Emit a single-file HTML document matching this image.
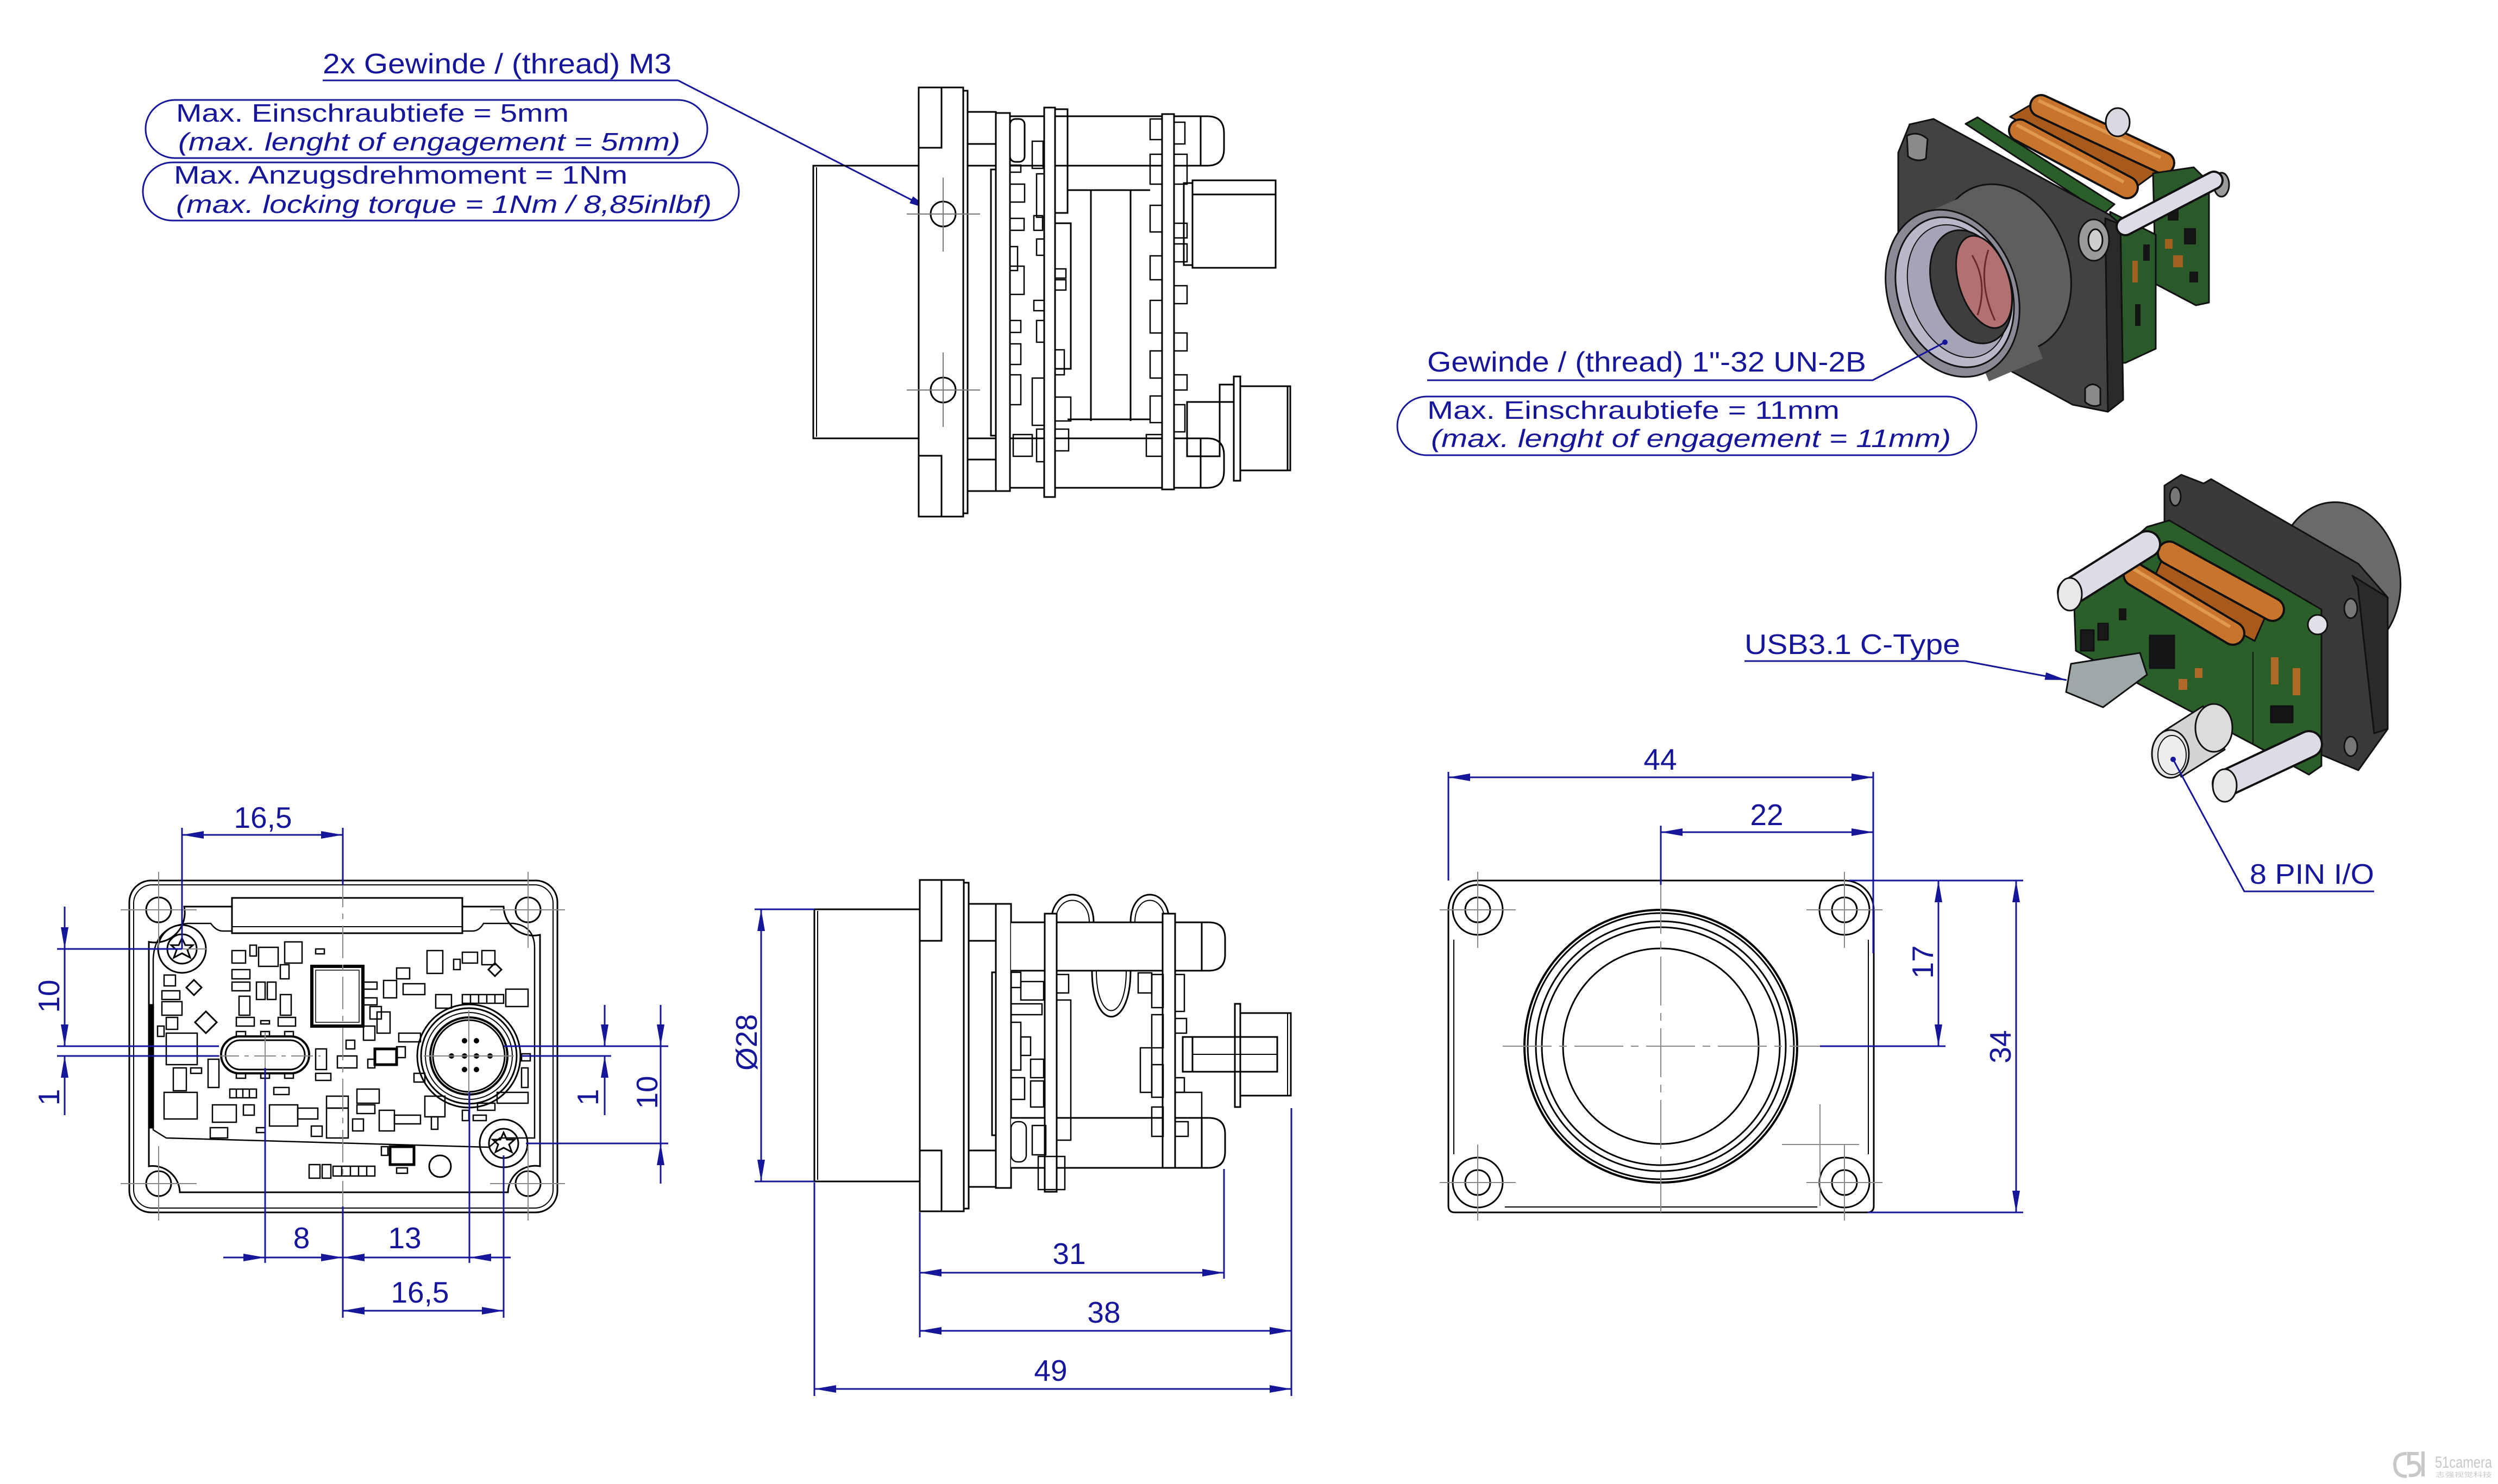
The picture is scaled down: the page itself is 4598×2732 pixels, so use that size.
<!DOCTYPE html>
<html><head><meta charset="utf-8">
<style>
html,body{margin:0;padding:0;background:#fff;}
svg{display:block;}
text{font-family:"Liberation Sans",Arial,sans-serif;fill:#16169a;}
</style></head><body>
<svg width="4598" height="2732" viewBox="0 0 4598 2732" xmlns="http://www.w3.org/2000/svg">
<defs>
<marker id="ar" viewBox="0 0 40 14" refX="40" refY="7" markerWidth="40" markerHeight="14" markerUnits="userSpaceOnUse" orient="auto-start-reverse"><path d="M0,0L40,7L0,14z" fill="#16169a"/></marker>
</defs>
<rect width="4598" height="2732" fill="#fff"/>

<!-- ================= LABELS TOP LEFT ================= -->
<g font-size="52">
<text x="594" y="135" textLength="642" lengthAdjust="spacingAndGlyphs">2x Gewinde / (thread) M3</text>
</g>
<g font-size="46">
<text x="324" y="224" textLength="723" lengthAdjust="spacingAndGlyphs">Max. Einschraubtiefe = 5mm</text>
<text x="328" y="277" textLength="924" lengthAdjust="spacingAndGlyphs" font-style="italic">(max. lenght of engagement = 5mm)</text>
<text x="320" y="338" textLength="835" lengthAdjust="spacingAndGlyphs">Max. Anzugsdrehmoment = 1Nm</text>
<text x="324" y="392" textLength="986" lengthAdjust="spacingAndGlyphs" font-style="italic">(max. locking torque = 1Nm / 8,85inlbf)</text>
</g>
<g stroke="#16169a" stroke-width="3" fill="none">
<rect x="268" y="184" width="1034" height="107" rx="54" ry="53"/>
<rect x="263" y="299" width="1097" height="107" rx="54" ry="53"/>
<polyline points="594,148 1248,148"/>
<line x1="1248" y1="148" x2="1713" y2="386" marker-end="url(#ar)"/>
</g>

<!-- ================= LABELS TOP RIGHT ================= -->
<g font-size="52">
<text x="2627" y="684" textLength="808" lengthAdjust="spacingAndGlyphs">Gewinde / (thread) 1"-32 UN-2B</text>
<text x="3211" y="1204" textLength="397" lengthAdjust="spacingAndGlyphs">USB3.1 C-Type</text>
<text x="4141" y="1627" textLength="229" lengthAdjust="spacingAndGlyphs">8 PIN I/O</text>
</g>
<g font-size="46">
<text x="2627" y="771" textLength="759" lengthAdjust="spacingAndGlyphs">Max. Einschraubtiefe = 11mm</text>
<text x="2634" y="823" textLength="957" lengthAdjust="spacingAndGlyphs" font-style="italic">(max. lenght of engagement = 11mm)</text>
</g>

<!-- ================= TOP SIDE VIEW ================= -->
<g stroke="#000" stroke-width="3" fill="none">
<rect x="1497" y="305" width="194" height="502"/>
<line x1="1503" y1="308" x2="1503" y2="804" stroke-width="2"/>
<rect x="1691" y="161" width="82" height="790" fill="#fff"/>
<rect x="1691" y="161" width="42" height="111"/>
<rect x="1691" y="839" width="42" height="112"/>
<rect x="1773" y="167" width="8" height="778"/>
<circle cx="1736" cy="394" r="23"/>
<circle cx="1736" cy="718" r="23"/>
<rect x="1781" y="206" width="52" height="99"/>
<line x1="1781" y1="265" x2="1833" y2="265"/>
<rect x="1781" y="807" width="52" height="97"/>
<line x1="1781" y1="846" x2="1833" y2="846"/>
<rect x="1824" y="312" width="9" height="490"/>
<rect x="1833" y="208" width="26" height="696"/>
<rect x="1859" y="219" width="27" height="79" rx="10"/>
<path d="M1859,214 H2222 Q2253,214 2253,245 V274 Q2253,305 2222,305 H1859"/>
<line x1="2210" y1="214" x2="2210" y2="305"/>
<path d="M1859,807 H2222 Q2253,807 2253,838 V867 Q2253,898 2222,898 H1859"/>
<line x1="2210" y1="807" x2="2210" y2="898"/>
<rect x="1922" y="198" width="20" height="717" fill="#fff"/>
<rect x="1942" y="201" width="23" height="191"/>
<rect x="1942" y="411" width="29" height="268"/>
<rect x="2139" y="210" width="22" height="691" fill="#fff"/>
<line x1="2008" y1="350" x2="2008" y2="775"/>
<line x1="2081" y1="350" x2="2081" y2="775"/>
<line x1="1965" y1="350" x2="2117" y2="350"/>
<line x1="1965" y1="772" x2="2117" y2="772"/>
<g stroke-width="2.5">
<rect x="1859" y="304" width="20" height="13"/>
<rect x="1859" y="339" width="27" height="33"/>
<rect x="1859" y="402" width="26" height="22"/>
<rect x="1859" y="454" width="14" height="44"/>
<rect x="1859" y="490" width="26" height="52"/>
<rect x="1903" y="397" width="16" height="27"/>
<rect x="1903" y="553" width="19" height="19"/>
<rect x="1859" y="590" width="20" height="22"/>
<rect x="1859" y="633" width="20" height="38"/>
<rect x="1859" y="690" width="20" height="55"/>
<rect x="1900" y="696" width="22" height="87"/>
<rect x="1942" y="495" width="20" height="17"/>
<rect x="1942" y="515" width="20" height="19"/>
<rect x="1942" y="644" width="17" height="46"/>
<rect x="1942" y="731" width="29" height="44"/>
<rect x="1900" y="260" width="20" height="50"/>
<rect x="1908" y="320" width="14" height="80"/>
<rect x="1908" y="440" width="14" height="30"/>
<rect x="1908" y="590" width="14" height="40"/>
<rect x="1908" y="790" width="14" height="60"/>
<rect x="1865" y="800" width="35" height="40"/>
<rect x="1942" y="790" width="25" height="40"/>
<rect x="2117" y="219" width="22" height="38"/>
<rect x="2117" y="284" width="22" height="55"/>
<rect x="2117" y="378" width="22" height="49"/>
<rect x="2117" y="471" width="22" height="44"/>
<rect x="2117" y="553" width="22" height="60"/>
<rect x="2117" y="646" width="22" height="50"/>
<rect x="2117" y="729" width="22" height="49"/>
<rect x="2161" y="284" width="24" height="55"/>
<rect x="2161" y="411" width="24" height="27"/>
<rect x="2161" y="449" width="24" height="33"/>
<rect x="2161" y="526" width="24" height="33"/>
<rect x="2161" y="613" width="24" height="33"/>
<rect x="2161" y="690" width="24" height="28"/>
<rect x="2161" y="225" width="20" height="40"/>
<rect x="2161" y="745" width="20" height="50"/>
<rect x="2110" y="800" width="29" height="40"/>
</g>
<rect x="2179" y="337" width="16" height="151"/>
<rect x="2195" y="332" width="153" height="161"/>
<line x1="2195" y1="358" x2="2348" y2="358"/>
<rect x="2245" y="708" width="26" height="32"/>
<rect x="2271" y="693" width="12" height="192"/>
<rect x="2283" y="711" width="92" height="155"/>
<line x1="2370" y1="711" x2="2370" y2="866"/>
<rect x="2185" y="740" width="60" height="100"/>
</g>
<g stroke="#777" stroke-width="2" fill="none">
<line x1="1669" y1="394" x2="1804" y2="394"/><line x1="1736" y1="327" x2="1736" y2="463"/>
<line x1="1669" y1="718" x2="1804" y2="718"/><line x1="1736" y1="649" x2="1736" y2="786"/>
</g>

<!-- ================= FRONT VIEW (PCB) BOTTOM LEFT ================= -->
<g stroke="#000" stroke-width="3" fill="none">
<rect x="238" y="1621" width="788" height="611" rx="40"/>
<rect x="246" y="1629" width="772" height="595" rx="34" stroke-width="2"/>
<circle cx="292" cy="1675" r="23"/><circle cx="972" cy="1675" r="23"/>
<circle cx="292" cy="2179" r="23"/><circle cx="972" cy="2179" r="23"/>
<path d="M339,1669 L927,1669 A55,55 0 0 0 994,1721 L994,2147 A50,50 0 0 0 935,2195 L331,2195 A50,50 0 0 0 274,2147 L274,1734 A55,55 0 0 0 339,1669 Z"/>
<path d="M282,1765 Q285,1706 345,1700 L388,1700 Q398,1714 410,1714 L870,1714 Q882,1714 890,1700 L945,1700 Q984,1705 984,1745 L984,2095 L920,2095 L900,2112 L306,2095 L282,2080 Z" stroke-width="2.5"/>
<rect x="274" y="1850" width="8" height="226" fill="#000"/>
<rect x="427" y="1653" width="424" height="65" fill="#fff"/>
<line x1="427" y1="1706" x2="851" y2="1706" stroke-width="2"/>
<rect x="574" y="1779" width="94" height="110" stroke-width="6"/>
<rect x="581" y="1786" width="80" height="96" stroke-width="1.5"/>
<rect x="407" y="1908" width="162" height="68" rx="34" stroke-width="4"/>
<rect x="415" y="1915" width="146" height="54" rx="27"/>
<circle cx="335" cy="1747" r="44"/><circle cx="335" cy="1747" r="27"/>
<path d="M335,1727 L341,1740 L355,1740 L345,1749 L350,1763 L335,1755 L320,1763 L325,1749 L315,1740 L329,1740 Z"/>
<circle cx="927" cy="2105" r="44"/><circle cx="927" cy="2105" r="27"/>
<path d="M927,2085 L933,2098 L947,2098 L937,2107 L942,2121 L927,2113 L912,2121 L917,2107 L907,2098 L921,2098 Z"/>
<circle cx="863" cy="1944" r="95" fill="#fff"/>
<circle cx="863" cy="1944" r="88"/>
<circle cx="863" cy="1944" r="80" stroke-width="2"/>
<circle cx="863" cy="1944" r="71" stroke-width="4"/>
<circle cx="863" cy="1944" r="66"/>
<path d="M357,1804 L371,1818 L357,1832 L343,1818 Z"/>
<path d="M379,1862 L399,1882 L379,1902 L359,1882 Z"/>
<path d="M911,1773 L923,1785 L911,1797 L899,1785 Z"/>
<circle cx="810" cy="2147" r="20"/>
<g stroke-width="2.5">
<rect x="427" y="1750" width="25" height="23"/><rect x="476" y="1744" width="36" height="35"/>
<rect x="460" y="1740" width="12" height="20"/><rect x="524" y="1734" width="32" height="39"/>
<rect x="581" y="1747" width="16" height="9"/><rect x="427" y="1785" width="33" height="17"/>
<rect x="427" y="1808" width="33" height="16"/><rect x="472" y="1808" width="16" height="32"/>
<rect x="492" y="1808" width="16" height="32"/><rect x="516" y="1776" width="16" height="26"/>
<rect x="440" y="1834" width="20" height="35"/><rect x="516" y="1831" width="20" height="38"/>
<rect x="435" y="1873" width="33" height="16"/><rect x="512" y="1873" width="32" height="16"/>
<rect x="480" y="1879" width="16" height="6"/>
<rect x="435" y="1899" width="17" height="9"/><rect x="480" y="1899" width="16" height="9"/><rect x="524" y="1899" width="16" height="9"/>
<rect x="435" y="1976" width="17" height="9"/><rect x="480" y="1976" width="16" height="9"/><rect x="524" y="1976" width="16" height="9"/>
<rect x="423" y="2005" width="49" height="16"/><rect x="504" y="2002" width="28" height="13"/>
<rect x="391" y="2034" width="44" height="32"/><rect x="448" y="2034" width="20" height="19"/>
<rect x="387" y="2076" width="32" height="19"/><rect x="472" y="2076" width="16" height="9"/>
<rect x="496" y="2034" width="52" height="39"/><rect x="548" y="2040" width="37" height="20"/>
<rect x="601" y="2018" width="40" height="22"/><rect x="601" y="2040" width="40" height="55"/>
<rect x="573" y="2073" width="20" height="19"/><rect x="657" y="2005" width="41" height="26"/>
<rect x="657" y="2034" width="33" height="16"/><rect x="649" y="2060" width="20" height="22"/>
<rect x="698" y="2044" width="28" height="38"/><rect x="726" y="2053" width="48" height="16"/>
<rect x="782" y="2018" width="37" height="38"/><rect x="794" y="2056" width="12" height="23"/>
<rect x="851" y="2044" width="12" height="19"/><rect x="871" y="2053" width="24" height="10"/>
<rect x="879" y="2031" width="32" height="13"/><rect x="915" y="2011" width="57" height="20"/>
<rect x="960" y="1966" width="12" height="36"/><rect x="786" y="1750" width="29" height="42"/>
<rect x="835" y="1766" width="12" height="19"/><rect x="851" y="1753" width="28" height="20"/>
<rect x="887" y="1750" width="24" height="26"/><rect x="730" y="1782" width="24" height="20"/>
<rect x="742" y="1811" width="40" height="20"/><rect x="706" y="1805" width="24" height="32"/>
<rect x="851" y="1831" width="76" height="16"/><rect x="931" y="1821" width="41" height="32"/>
<rect x="802" y="1831" width="29" height="25"/><rect x="669" y="1808" width="25" height="13"/>
<rect x="669" y="1837" width="25" height="13"/><rect x="681" y="1853" width="21" height="23"/>
<rect x="694" y="1863" width="24" height="39"/><rect x="669" y="1889" width="21" height="26"/>
<rect x="690" y="1931" width="40" height="29" stroke-width="5"/>
<rect x="734" y="1902" width="40" height="16"/><rect x="730" y="1927" width="16" height="20"/>
<rect x="621" y="1944" width="36" height="22"/><rect x="637" y="1915" width="16" height="16"/>
<rect x="581" y="1931" width="20" height="38"/><rect x="581" y="1976" width="28" height="13"/>
<rect x="677" y="1950" width="13" height="16"/><rect x="762" y="1976" width="20" height="16"/>
<rect x="383" y="1950" width="20" height="52"/><rect x="302" y="1795" width="21" height="20"/>
<rect x="298" y="1824" width="33" height="16"/><rect x="298" y="1844" width="37" height="25"/>
<rect x="306" y="1873" width="21" height="22"/><rect x="306" y="1902" width="57" height="58"/>
<rect x="319" y="1966" width="24" height="42"/><rect x="302" y="2011" width="61" height="49"/>
<rect x="290" y="1889" width="12" height="19"/><rect x="351" y="1966" width="20" height="10"/>
<rect x="718" y="2111" width="44" height="33" stroke-width="5"/><rect x="702" y="2111" width="12" height="16"/>
<rect x="730" y="2150" width="20" height="10"/><rect x="569" y="2144" width="20" height="25"/>
<rect x="593" y="2144" width="16" height="25"/><rect x="613" y="2147" width="77" height="18"/>
<line x1="629" y1="2147" x2="629" y2="2165"/><line x1="645" y1="2147" x2="645" y2="2165"/><line x1="660" y1="2147" x2="660" y2="2165"/><line x1="675" y1="2147" x2="675" y2="2165"/>
<line x1="866" y1="1831" x2="866" y2="1847"/><line x1="881" y1="1831" x2="881" y2="1847"/><line x1="896" y1="1831" x2="896" y2="1847"/><line x1="911" y1="1831" x2="911" y2="1847"/>
<line x1="435" y1="2005" x2="435" y2="2021"/><line x1="447" y1="2005" x2="447" y2="2021"/><line x1="459" y1="2005" x2="459" y2="2021"/>
<rect x="960" y="1940" width="16" height="13"/>
</g>
</g>
<g fill="#000">
<circle cx="855" cy="1916" r="5"/><circle cx="877" cy="1916" r="5"/>
<circle cx="831" cy="1944" r="5"/><circle cx="855" cy="1944" r="5"/><circle cx="877" cy="1944" r="5"/><circle cx="902" cy="1944" r="5"/>
<circle cx="855" cy="1969" r="5"/><circle cx="877" cy="1969" r="5"/>
</g>
<g stroke="#888" stroke-width="2" fill="none">
<line x1="631" y1="1610" x2="631" y2="2245" stroke-dasharray="60 12 10 12"/>
<line x1="400" y1="1944" x2="590" y2="1944" stroke-dasharray="40 10 8 10"/>
<line x1="488" y1="1900" x2="488" y2="1990"/>
<line x1="222" y1="1675" x2="362" y2="1675"/><line x1="902" y1="1675" x2="1040" y2="1675"/>
<line x1="222" y1="2179" x2="362" y2="2179"/><line x1="902" y1="2179" x2="1040" y2="2179"/>
<line x1="292" y1="1605" x2="292" y2="1745"/><line x1="292" y1="2110" x2="292" y2="2247"/>
<line x1="972" y1="1605" x2="972" y2="1745"/><line x1="972" y1="2110" x2="972" y2="2247"/>
<line x1="780" y1="1944" x2="946" y2="1944"/><line x1="863" y1="1860" x2="863" y2="2030"/>
<line x1="290" y1="1747" x2="380" y2="1747"/>
</g>
<g stroke="#16169a" stroke-width="3" fill="none">
<line x1="335" y1="1537" x2="631" y2="1537" marker-start="url(#ar)" marker-end="url(#ar)"/>
<line x1="335" y1="1524" x2="335" y2="1747"/><line x1="631" y1="1524" x2="631" y2="1630"/>
<line x1="119" y1="1669" x2="119" y2="1747" marker-end="url(#ar)"/>
<line x1="119" y1="1747" x2="119" y2="1926" marker-end="url(#ar)"/>
<line x1="119" y1="2053" x2="119" y2="1944" marker-end="url(#ar)"/>
<line x1="105" y1="1747" x2="335" y2="1747"/>
<line x1="105" y1="1926" x2="403" y2="1926"/>
<line x1="105" y1="1944" x2="403" y2="1944"/>
<line x1="1113" y1="1850" x2="1113" y2="1926" marker-end="url(#ar)"/>
<line x1="1113" y1="2053" x2="1113" y2="1944" marker-end="url(#ar)"/>
<line x1="1216" y1="1850" x2="1216" y2="1926" marker-end="url(#ar)"/>
<line x1="1216" y1="2179" x2="1216" y2="2105" marker-end="url(#ar)"/>
<line x1="1216" y1="1926" x2="1216" y2="2105"/>
<line x1="927" y1="1926" x2="1230" y2="1926"/>
<line x1="960" y1="1944" x2="1125" y2="1944"/>
<line x1="968" y1="2105" x2="1230" y2="2105"/>
<line x1="411" y1="2315" x2="488" y2="2315" marker-end="url(#ar)"/>
<line x1="488" y1="2315" x2="631" y2="2315" marker-end="url(#ar)"/>
<line x1="864" y1="2315" x2="631" y2="2315" marker-end="url(#ar)"/>
<line x1="940" y1="2315" x2="864" y2="2315" marker-end="url(#ar)"/>
<line x1="631" y1="2413" x2="927" y2="2413" marker-start="url(#ar)" marker-end="url(#ar)"/>
<line x1="488" y1="1966" x2="488" y2="2325"/>
<line x1="631" y1="2221" x2="631" y2="2426"/>
<line x1="864" y1="2011" x2="864" y2="2325"/>
<line x1="927" y1="2127" x2="927" y2="2426"/>
</g>
<g font-size="55" text-anchor="middle">
<text x="484" y="1524">16,5</text>
<text x="555" y="2298">8</text>
<text x="745" y="2298">13</text>
<text x="773" y="2398">16,5</text>
<text transform="translate(109,1834) rotate(-90)">10</text>
<text transform="translate(109,2020) rotate(-90)">1</text>
<text transform="translate(1101,2020) rotate(-90)">1</text>
<text transform="translate(1210,2011) rotate(-90)">10</text>
</g>

<!-- ================= SIDE VIEW BOTTOM MIDDLE ================= -->
<g stroke="#000" stroke-width="3" fill="none">
<rect x="1499" y="1674" width="194" height="501"/>
<line x1="1505" y1="1677" x2="1505" y2="2172" stroke-width="2"/>
<rect x="1693" y="1620" width="81" height="610"/>
<rect x="1693" y="1620" width="40" height="112"/>
<rect x="1693" y="2118" width="40" height="112"/>
<rect x="1774" y="1625" width="9" height="600"/>
<rect x="1783" y="1664" width="50" height="521"/>
<line x1="1783" y1="1732" x2="1833" y2="1732"/>
<line x1="1783" y1="2118" x2="1833" y2="2118"/>
<rect x="1826" y="1790" width="7" height="300"/>
<rect x="1833" y="1664" width="28" height="523"/>
<path d="M1935,1698 C1935,1630 2013,1630 2013,1698"/>
<path d="M1943,1698 C1943,1644 2005,1644 2005,1698" stroke-width="2"/>
<path d="M2081,1698 C2081,1630 2152,1630 2152,1698"/>
<path d="M2089,1698 C2089,1644 2144,1644 2144,1698" stroke-width="2"/>
<path d="M2010,1787 C2010,1900 2081,1900 2081,1787"/>
<path d="M2018,1787 C2018,1885 2073,1885 2073,1787" stroke-width="2"/>
<path d="M1861,1698 H2225 Q2255,1698 2255,1728 V1757 Q2255,1787 2225,1787 H1861" fill="#fff"/>
<line x1="2212" y1="1698" x2="2212" y2="1787"/>
<path d="M1861,2058 H2225 Q2255,2058 2255,2088 V2120 Q2255,2150 2225,2150 H1861" fill="#fff"/>
<line x1="2212" y1="2058" x2="2212" y2="2150"/>
<line x1="1971" y1="2058" x2="2140" y2="2058"/>
<rect x="1923" y="1682" width="22" height="512" fill="#fff"/>
<rect x="2140" y="1682" width="23" height="468" fill="#fff"/>
<g stroke-width="2.5">
<rect x="1861" y="1790" width="18" height="28"/><rect x="1879" y="1807" width="42" height="34"/>
<rect x="1861" y="1848" width="57" height="20"/><rect x="1861" y="1882" width="18" height="88"/>
<rect x="1879" y="1909" width="18" height="34"/><rect x="1897" y="1950" width="24" height="34"/>
<rect x="1861" y="1984" width="25" height="40"/><rect x="1897" y="1990" width="24" height="48"/>
<rect x="1861" y="2065" width="28" height="74" rx="12"/><rect x="1900" y="2072" width="25" height="54"/>
<rect x="1911" y="2129" width="49" height="61"/><rect x="1945" y="1794" width="22" height="34"/>
<rect x="1945" y="1841" width="26" height="258"/>
<rect x="2120" y="1794" width="21" height="61"/><rect x="2095" y="1791" width="25" height="37"/>
<rect x="2120" y="1868" width="21" height="61"/><rect x="2099" y="1929" width="21" height="82"/>
<rect x="2120" y="1960" width="21" height="60"/><rect x="2120" y="2038" width="21" height="54"/>
<rect x="2163" y="1794" width="17" height="68"/><rect x="2163" y="1875" width="21" height="27"/>
<rect x="2163" y="1984" width="17" height="27"/><rect x="2163" y="2065" width="24" height="27"/>
<rect x="2163" y="2011" width="49" height="47"/>
</g>
<rect x="2177" y="1909" width="18" height="64"/>
<rect x="2195" y="1909" width="156" height="64"/>
<line x1="2195" y1="1941" x2="2351" y2="1941" stroke-width="2"/>
<rect x="2273" y="1848" width="10" height="190"/>
<path d="M2283,1865 H2376 V2017 H2283"/>
<line x1="2370" y1="1865" x2="2370" y2="2017" stroke-width="2"/>
</g>
<g stroke="#16169a" stroke-width="3" fill="none">
<line x1="1401" y1="1674" x2="1401" y2="2175" marker-start="url(#ar)" marker-end="url(#ar)"/>
<line x1="1389" y1="1674" x2="1499" y2="1674"/>
<line x1="1389" y1="2175" x2="1499" y2="2175"/>
<line x1="1693" y1="2343" x2="2253" y2="2343" marker-start="url(#ar)" marker-end="url(#ar)"/>
<line x1="1693" y1="2450" x2="2377" y2="2450" marker-start="url(#ar)" marker-end="url(#ar)"/>
<line x1="1499" y1="2557" x2="2377" y2="2557" marker-start="url(#ar)" marker-end="url(#ar)"/>
<line x1="1693" y1="2232" x2="1693" y2="2462"/>
<line x1="1499" y1="2177" x2="1499" y2="2570"/>
<line x1="2253" y1="2152" x2="2253" y2="2354"/>
<line x1="2377" y1="2040" x2="2377" y2="2570"/>
</g>
<g font-size="55" text-anchor="middle">
<text x="1968" y="2327">31</text>
<text x="2032" y="2435">38</text>
<text x="1934" y="2542">49</text>
<text transform="translate(1393,1919) rotate(-90)">Ø28</text>
</g>

<!-- ================= FRONT VIEW RIGHT ================= -->
<g stroke="#000" stroke-width="3" fill="none">
<path d="M2720,1621 H3395 A54,54 0 0 1 3449,1675 V2220 Q3449,2232 3437,2232 H2678 Q2666,2232 2666,2220 V1675 A54,54 0 0 1 2720,1621 Z"/>
<path d="M2676,1730 V2125 M3439,1730 V2125 M2770,2222 H3345" stroke-width="2"/>
<circle cx="2720" cy="1675" r="46"/><circle cx="2720" cy="1675" r="23"/>
<circle cx="3395" cy="1675" r="46"/><circle cx="3395" cy="1675" r="23"/>
<circle cx="2720" cy="2177" r="46"/><circle cx="2720" cy="2177" r="23"/>
<circle cx="3395" cy="2177" r="46"/><circle cx="3395" cy="2177" r="23"/>
<circle cx="3057" cy="1926" r="251" stroke-width="4"/>
<circle cx="3057" cy="1926" r="245"/>
<circle cx="3057" cy="1926" r="230"/>
<circle cx="3057" cy="1926" r="219"/>
<circle cx="3057" cy="1926" r="180"/>
</g>
<g stroke="#888" stroke-width="2" fill="none">
<line x1="2766" y1="1926" x2="3350" y2="1926" stroke-dasharray="90 14 14 14"/>
<line x1="3057" y1="1629" x2="3057" y2="2232" stroke-dasharray="90 14 14 14"/>
<line x1="2650" y1="1675" x2="2790" y2="1675"/><line x1="2720" y1="1605" x2="2720" y2="1745"/>
<line x1="3325" y1="1675" x2="3465" y2="1675"/><line x1="3395" y1="1605" x2="3395" y2="1745"/>
<line x1="2650" y1="2177" x2="2790" y2="2177"/><line x1="2720" y1="2107" x2="2720" y2="2247"/>
<line x1="3325" y1="2177" x2="3465" y2="2177"/><line x1="3395" y1="2107" x2="3395" y2="2247"/>
<line x1="3280" y1="2107" x2="3422" y2="2107"/><line x1="3350" y1="2033" x2="3350" y2="2220"/>
</g>
<g stroke="#16169a" stroke-width="3" fill="none">
<line x1="2666" y1="1431" x2="3448" y2="1431" marker-start="url(#ar)" marker-end="url(#ar)"/>
<line x1="3057" y1="1532" x2="3448" y2="1532" marker-start="url(#ar)" marker-end="url(#ar)"/>
<line x1="2666" y1="1421" x2="2666" y2="1621"/>
<line x1="3448" y1="1421" x2="3448" y2="1755"/>
<line x1="3057" y1="1520" x2="3057" y2="1629"/>
<line x1="3568" y1="1621" x2="3568" y2="1926" marker-start="url(#ar)" marker-end="url(#ar)"/>
<line x1="3711" y1="1621" x2="3711" y2="2232" marker-start="url(#ar)" marker-end="url(#ar)"/>
<line x1="3403" y1="1621" x2="3724" y2="1621"/>
<line x1="3350" y1="1926" x2="3581" y2="1926"/>
<line x1="3438" y1="2232" x2="3724" y2="2232"/>
</g>
<g font-size="55" text-anchor="middle">
<text x="3056" y="1417">44</text>
<text x="3252" y="1519">22</text>
<text transform="translate(3558,1771) rotate(-90)">17</text>
<text transform="translate(3701,1927) rotate(-90)">34</text>
</g>

<!-- ================= ISO TOP ================= -->
<g stroke="#111" stroke-width="3" stroke-linejoin="round">
<polygon points="3700,215 3760,180 3995,298 3935,342" fill="#a85a1c"/>
<line x1="3757" y1="195" x2="3982" y2="300" stroke="#111" stroke-width="44" stroke-linecap="round"/>
<line x1="3757" y1="195" x2="3982" y2="300" stroke="#c8742c" stroke-width="36" stroke-linecap="round"/>
<line x1="3752" y1="185" x2="3977" y2="290" stroke="#e09a50" stroke-width="6"/>
<polygon points="3963,319 4038,308 4066,336 4066,557 4042,562 3968,523" fill="#2a5a2a"/>
<rect x="3990" y="380" width="20" height="26" fill="#151515" stroke="none"/>
<rect x="4020" y="420" width="22" height="30" fill="#151515" stroke="none"/>
<rect x="4000" y="470" width="18" height="22" fill="#a06020" stroke="none"/>
<rect x="4030" y="500" width="16" height="20" fill="#151515" stroke="none"/>
<rect x="3985" y="440" width="14" height="18" fill="#a06020" stroke="none"/>
<ellipse cx="4089" cy="340" rx="14" ry="22" fill="#9a9a9a"/>
<ellipse cx="3898" cy="225" rx="22" ry="26" fill="#d8d8e0"/>
<polygon points="3618,228 3640,216 3892,376 3872,394" fill="#2a5f2a"/>
<line x1="3718" y1="240" x2="3915" y2="345" stroke="#111" stroke-width="44" stroke-linecap="round"/>
<line x1="3718" y1="240" x2="3915" y2="345" stroke="#c8742c" stroke-width="36" stroke-linecap="round"/>
<line x1="3712" y1="230" x2="3909" y2="335" stroke="#e09a50" stroke-width="6"/>
<polygon points="3884,390 3968,432 3968,642 3912,668 3903,668" fill="#2a5a2a"/>
<rect x="3925" y="480" width="10" height="40" fill="#a06020" stroke="none"/>
<rect x="3930" y="560" width="10" height="40" fill="#151515" stroke="none"/>
<rect x="3945" y="450" width="12" height="30" fill="#151515" stroke="none"/>
<polygon points="3515,229 3559,219 3884,396 3903,413 3908,736 3880,758 3815,745 3494,570 3494,281" fill="#424242"/>
<polygon points="3875,402 3903,413 3908,736 3880,758" fill="#2a2a2a"/>
<path d="M3510,250 Q3530,240 3548,256 L3545,292 Q3528,300 3512,288 Z" fill="#8a8a8a"/>
<ellipse cx="3854" cy="442" rx="28" ry="38" fill="#9a9a9a"/>
<ellipse cx="3857" cy="442" rx="13" ry="20" fill="#cfcfcf"/>
<path d="M3838,715 Q3852,700 3866,715 L3866,745 Q3852,752 3838,740 Z" fill="#8a8a8a"/>
<line x1="3912" y1="417" x2="4075" y2="332" stroke="#111" stroke-width="36" stroke-linecap="round"/>
<line x1="3912" y1="417" x2="4075" y2="332" stroke="#dcdce8" stroke-width="28" stroke-linecap="round"/>
<ellipse cx="3689" cy="493" rx="118" ry="158" transform="rotate(-20 3689 493)" fill="#5e5e5e"/>
<polygon points="3531,398 3640,350 3760,660 3661,702" fill="#5e5e5e" stroke="none"/>
<ellipse cx="3594" cy="540" rx="118" ry="158" transform="rotate(-20 3594 540)" fill="#8a8a96"/>
<ellipse cx="3598" cy="538" rx="104" ry="142" transform="rotate(-20 3598 538)" fill="#b8b8c8"/>
<ellipse cx="3604" cy="536" rx="88" ry="126" transform="rotate(-20 3604 536)" fill="#a4a4b6" stroke-width="2"/>
<ellipse cx="3628" cy="528" rx="70" ry="108" transform="rotate(-20 3628 528)" fill="#3e3e3e"/>
<ellipse cx="3652" cy="519" rx="46" ry="88" transform="rotate(-18 3652 519)" fill="#b27070"/>
<path d="M3630,470 Q3660,520 3640,580 M3660,460 Q3640,520 3672,590" stroke="#6a2a2a" stroke-width="3" fill="none"/>
</g>
<g stroke="#16169a" stroke-width="3" fill="none">
<polyline points="2627,700 3447,700 3580,630"/>
<rect x="2572" y="730" width="1066" height="108" rx="54" ry="54"/>
</g>
<circle cx="3580" cy="630" r="5" fill="#16169a"/>

<!-- ================= ISO BOTTOM ================= -->
<g stroke="#111" stroke-width="3" stroke-linejoin="round">
<ellipse cx="4305" cy="1066" rx="113" ry="142" transform="rotate(-8 4305 1066)" fill="#6a6a6a"/>
<polygon points="3984,894 4015,874 4056,890 4070,882 4341,1038 4395,1100 4395,1342 4341,1418 4250,1380 3984,970" fill="#3a3a3a"/>
<ellipse cx="4004" cy="914" rx="10" ry="17" fill="#777"/>
<ellipse cx="4327" cy="1120" rx="12" ry="18" fill="#777"/>
<ellipse cx="4327" cy="1374" rx="12" ry="18" fill="#777"/>
<polygon points="4330,1060 4395,1100 4395,1342 4370,1350 4340,1080" fill="#2a2a2a"/>
<polygon points="3952,970 3993,958 4273,1122 4273,1410 4250,1426 4147,1370 3821,1198 3817,1090" fill="#2a5f2a"/>
<line x1="4147" y1="1200" x2="4147" y2="1370" stroke-width="2"/>
<rect x="3957" y="1170" width="45" height="60" fill="#151515"/>
<rect x="3830" y="1160" width="24" height="38" fill="#1a1a1a"/>
<rect x="3862" y="1148" width="18" height="30" fill="#1a1a1a"/>
<rect x="3880" y="1230" width="16" height="20" fill="#b06a28" stroke="none"/>
<rect x="4010" y="1250" width="16" height="20" fill="#b06a28" stroke="none"/>
<rect x="4040" y="1230" width="14" height="18" fill="#b06a28" stroke="none"/>
<rect x="4180" y="1210" width="14" height="50" fill="#b06a28" stroke="none"/>
<rect x="4220" y="1230" width="14" height="50" fill="#b06a28" stroke="none"/>
<rect x="4180" y="1300" width="40" height="30" fill="#151515"/>
<rect x="3900" y="1120" width="14" height="22" fill="#151515" stroke="none"/>
<polygon points="3993,1000 4183,1105 4150,1180 3960,1075" fill="#a85a1c"/>
<line x1="3993" y1="1018" x2="4183" y2="1122" stroke="#111" stroke-width="46" stroke-linecap="round"/>
<line x1="3993" y1="1018" x2="4183" y2="1122" stroke="#c8742c" stroke-width="38" stroke-linecap="round"/>
<line x1="3930" y1="1058" x2="4110" y2="1166" stroke="#111" stroke-width="46" stroke-linecap="round"/>
<line x1="3930" y1="1058" x2="4110" y2="1166" stroke="#c8742c" stroke-width="38" stroke-linecap="round"/>
<line x1="3925" y1="1046" x2="4105" y2="1154" stroke="#e09a50" stroke-width="6"/>
<line x1="3812" y1="1090" x2="3952" y2="1002" stroke="#111" stroke-width="52" stroke-linecap="round"/>
<line x1="3812" y1="1090" x2="3952" y2="1002" stroke="#dcdce6" stroke-width="44" stroke-linecap="round"/>
<ellipse cx="3810" cy="1094" rx="22" ry="30" fill="#e8e8e8"/>
<line x1="4097" y1="1442" x2="4250" y2="1370" stroke="#111" stroke-width="52" stroke-linecap="round"/>
<line x1="4097" y1="1442" x2="4250" y2="1370" stroke="#dcdce6" stroke-width="44" stroke-linecap="round"/>
<ellipse cx="4095" cy="1446" rx="22" ry="30" fill="#e8e8e8"/>
<circle cx="4266" cy="1150" r="18" fill="#e0e0e8"/>
<polygon points="3812,1222 3939,1202 3952,1242 3871,1302 3803,1274" fill="#9fa8a8"/>
<polygon points="3980,1348 4055,1300 4095,1380 4015,1430" fill="#d4d4d4"/>
<ellipse cx="4075" cy="1340" rx="34" ry="44" fill="#dcdcdc"/>
<ellipse cx="3995" cy="1388" rx="34" ry="44" fill="#e6e6e6"/>
<ellipse cx="3998" cy="1390" rx="26" ry="36" fill="#eeeeee" stroke-width="2"/>
</g>
<g stroke="#16169a" stroke-width="3" fill="none">
<polyline points="3211,1217 3617,1217"/>
<line x1="3617" y1="1217" x2="3804" y2="1252" marker-end="url(#ar)"/>
<polyline points="4370,1641 4131,1641 4000,1398"/>
</g>
<circle cx="4000" cy="1398" r="5" fill="#16169a"/>

<!-- watermark -->
<g fill="none" stroke="#c8c8c8" stroke-width="6">
<path d="M4430,2676 Q4408,2676 4408,2696 Q4408,2718 4430,2718"/>
<path d="M4452,2676 H4434 V2694 Q4452,2688 4454,2704 Q4452,2718 4434,2716"/>
<path d="M4460,2672 V2718"/>
</g>
<text x="4482" y="2702" font-size="30" textLength="105" lengthAdjust="spacingAndGlyphs" style="fill:#c8c8c8">51camera</text>
<text x="4483" y="2719" font-size="12" textLength="104" lengthAdjust="spacingAndGlyphs" style="fill:#c8c8c8;font-family:'Liberation Sans','Noto Sans CJK SC',sans-serif">志强视觉科技</text>
</svg>
</body></html>
